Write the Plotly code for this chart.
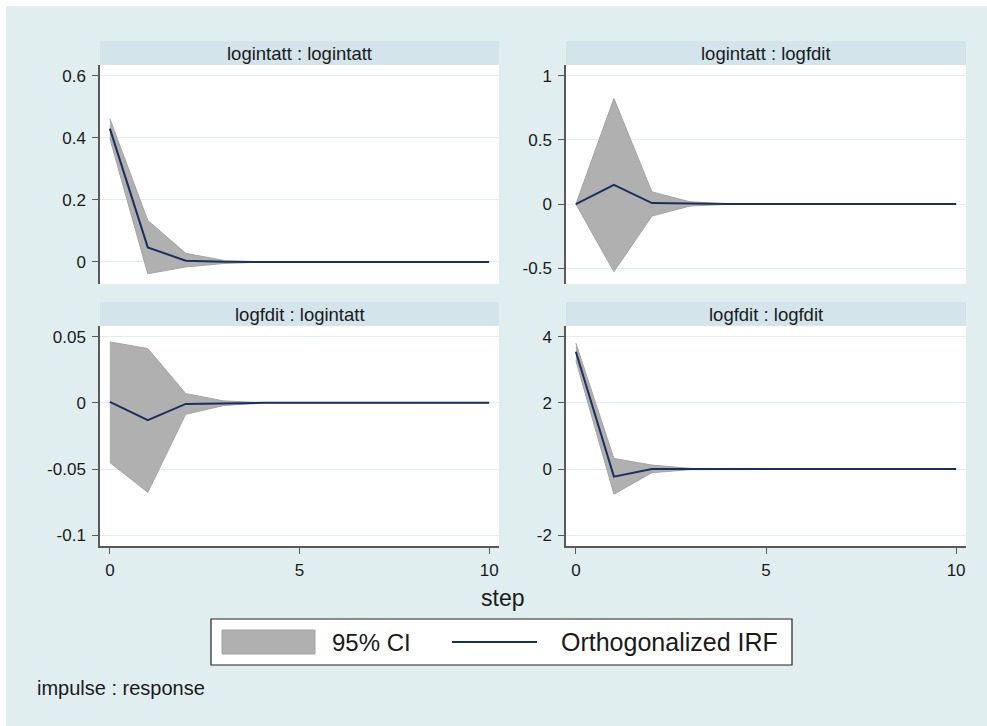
import plotly.graph_objects as go

# ---------------- data ----------------
steps = list(range(11))

# impulse logintatt -> response logintatt
irf_ii = [0.430, 0.047, 0.004, 0.0005, 0, 0, 0, 0, 0, 0, 0]
lo_ii = [0.398, -0.038, -0.016, -0.005, -0.0005, 0, 0, 0, 0, 0, 0]
hi_ii = [0.462, 0.134, 0.028, 0.005, 0.0005, 0, 0, 0, 0, 0, 0]

# impulse logintatt -> response logfdit
irf_if = [0, 0.149, 0.008, 0.002, 0, 0, 0, 0, 0, 0, 0]
lo_if = [0, -0.526, -0.093, -0.015, -0.002, 0, 0, 0, 0, 0, 0]
hi_if = [0, 0.822, 0.095, 0.018, 0.002, 0, 0, 0, 0, 0, 0]

# impulse logfdit -> response logintatt
irf_fi = [0.0008, -0.013, -0.0008, -0.0002, 0, 0, 0, 0, 0, 0, 0]
lo_fi = [-0.045, -0.0675, -0.0086, -0.002, -0.0002, 0, 0, 0, 0, 0, 0]
hi_fi = [0.046, 0.041, 0.007, 0.0015, 0.0002, 0, 0, 0, 0, 0, 0]

# impulse logfdit -> response logfdit
irf_ff = [3.55, -0.23, 0.0, 0.0, 0, 0, 0, 0, 0, 0, 0]
lo_ff = [3.28, -0.76, -0.11, -0.02, 0, 0, 0, 0, 0, 0, 0]
hi_ff = [3.81, 0.32, 0.12, 0.02, 0, 0, 0, 0, 0, 0, 0]

titles = ["logintatt : logintatt", "logintatt : logfdit",
          "logfdit : logintatt", "logfdit : logfdit"]

yticks_ii = [0, 0.2, 0.4, 0.6]
ytext_ii = ["0", "0.2", "0.4", "0.6"]
yticks_if = [-0.5, 0, 0.5, 1]
ytext_if = ["-0.5", "0", "0.5", "1"]
yticks_fi = [-0.1, -0.05, 0, 0.05]
ytext_fi = ["-0.1", "-0.05", "0", "0.05"]
yticks_ff = [-2, 0, 2, 4]
ytext_ff = ["-2", "0", "2", "4"]
xticks = [0, 5, 10]
xtext = ["0", "5", "10"]

# ---------------- style ----------------
W, H = 987, 726
BG = "#e0eef0"
STRIP = "#d3e5ea"
GRID = "#e1edf1"
AXIS = "#595959"
NAVY = "#1b2f5f"
CI_FILL = "#b0b0b0"
CI_LINE = "#a3a3a3"
FONT = "Liberation Sans, Arial, sans-serif"
TXT = "#1a1a1a"


def px(x):
    return x / W


def py(y):
    return 1 - y / H


# panel pixel boxes: (left, right, top, bottom)
panels = [
    (100, 499, 65, 284),
    (566, 966, 65, 284),
    (100, 499, 326, 546),
    (566, 966, 326, 546),
]
yranges = [(-0.071, 0.635), (-0.622, 1.083), (-0.108, 0.058), (-2.33, 4.33)]
ytick_sets = [(yticks_ii, ytext_ii), (yticks_if, ytext_if),
              (yticks_fi, ytext_fi), (yticks_ff, ytext_ff)]
series = [(irf_ii, lo_ii, hi_ii), (irf_if, lo_if, hi_if),
          (irf_fi, lo_fi, hi_fi), (irf_ff, lo_ff, hi_ff)]

fig = go.Figure()
shapes = []
annotations = []

for i, ((l, r, t, b), yr, (tv, tt), (irf, lo, hi)) in enumerate(
        zip(panels, yranges, ytick_sets, series)):
    n = i + 1
    xa = "x" if n == 1 else f"x{n}"
    ya = "y" if n == 1 else f"y{n}"
    xkey = "xaxis" if n == 1 else f"xaxis{n}"
    ykey = "yaxis" if n == 1 else f"yaxis{n}"
    bottom_row = i >= 2

    fig.add_trace(go.Scatter(
        x=steps + steps[::-1], y=hi + lo[::-1], fill="toself",
        fillcolor=CI_FILL, line=dict(color=CI_LINE, width=1),
        mode="lines", xaxis=xa, yaxis=ya, showlegend=False,
        hoverinfo="skip"))
    fig.add_trace(go.Scatter(
        x=steps, y=irf, mode="lines", line=dict(color=NAVY, width=2),
        xaxis=xa, yaxis=ya, showlegend=False))

    fig.layout[xkey] = dict(
        domain=[px(l), px(r)], range=[-0.26, 10.26], anchor=ya,
        tickvals=xticks, ticktext=xtext, showgrid=False, zeroline=False,
        showline=bottom_row, linecolor=AXIS, linewidth=1.5,
        ticks="outside" if bottom_row else "", ticklen=6, tickwidth=1.2,
        tickcolor=AXIS, showticklabels=bottom_row,
        tickfont=dict(family=FONT, size=17, color=TXT),
        ticklabelstandoff=2)
    fig.layout[ykey] = dict(
        domain=[py(b), py(t)], range=list(yr), anchor=xa,
        tickvals=tv, ticktext=tt, showgrid=True, gridcolor=GRID,
        gridwidth=1, zeroline=False, showline=True, linecolor=AXIS,
        linewidth=1.5, ticks="outside", ticklen=6, tickwidth=1.2,
        tickcolor=AXIS, tickfont=dict(family=FONT, size=17, color=TXT),
        ticklabelstandoff=3)

    # strip header
    shapes.append(dict(type="rect", xref="paper", yref="paper",
                       x0=px(l), x1=px(r), y0=py(t), y1=py(t - 24),
                       fillcolor=STRIP, line=dict(width=0), layer="below"))
    annotations.append(dict(text=titles[i], xref="paper", yref="paper",
                            x=px((l + r) / 2), y=py(t - 12),
                            xanchor="center", yanchor="middle",
                            showarrow=False,
                            font=dict(family=FONT, size=18.5, color=TXT)))

# white edge at top and left
shapes.append(dict(type="rect", xref="paper", yref="paper", x0=0, x1=px(6),
                   y0=0, y1=1, fillcolor="white", line=dict(width=0),
                   layer="above"))
shapes.append(dict(type="rect", xref="paper", yref="paper", x0=0, x1=1,
                   y0=py(6), y1=1, fillcolor="white", line=dict(width=0),
                   layer="above"))

# legend box
shapes.append(dict(type="rect", xref="paper", yref="paper",
                   x0=px(211), x1=px(792), y0=py(665), y1=py(619),
                   fillcolor="white", line=dict(color="#222222", width=1.2)))
shapes.append(dict(type="rect", xref="paper", yref="paper",
                   x0=px(222), x1=px(315), y0=py(654), y1=py(630),
                   fillcolor=CI_FILL, line=dict(color=CI_LINE, width=1)))
shapes.append(dict(type="line", xref="paper", yref="paper",
                   x0=px(452), x1=px(537), y0=py(642), y1=py(642),
                   line=dict(color=NAVY, width=2)))
annotations.append(dict(text="95% CI", xref="paper", yref="paper",
                        x=px(330), y=py(642), xanchor="left",
                        yanchor="middle", showarrow=False,
                        font=dict(family=FONT, size=24, color=TXT)))
annotations.append(dict(text="Orthogonalized IRF", xref="paper",
                        yref="paper", x=px(559), y=py(642), xanchor="left",
                        yanchor="middle", showarrow=False,
                        font=dict(family=FONT, size=25, color=TXT)))

# axis title and note
annotations.append(dict(text="step", xref="paper", yref="paper",
                        x=px(502), y=py(598), xanchor="center",
                        yanchor="middle", showarrow=False,
                        font=dict(family=FONT, size=23, color=TXT)))
annotations.append(dict(text="impulse : response", xref="paper",
                        yref="paper", x=px(35), y=py(688), xanchor="left",
                        yanchor="middle", showarrow=False,
                        font=dict(family=FONT, size=20, color=TXT)))

fig.update_layout(
    width=W, height=H, margin=dict(l=0, r=0, t=0, b=0, autoexpand=False),
    paper_bgcolor=BG, plot_bgcolor="white", shapes=shapes,
    annotations=annotations, showlegend=False,
    font=dict(family=FONT, color=TXT))

fig.write_html(
    "out.html",
    config={"displayModeBar": False},
    post_script="document.body.style.margin='0';"
                "document.body.style.overflow='hidden';")
